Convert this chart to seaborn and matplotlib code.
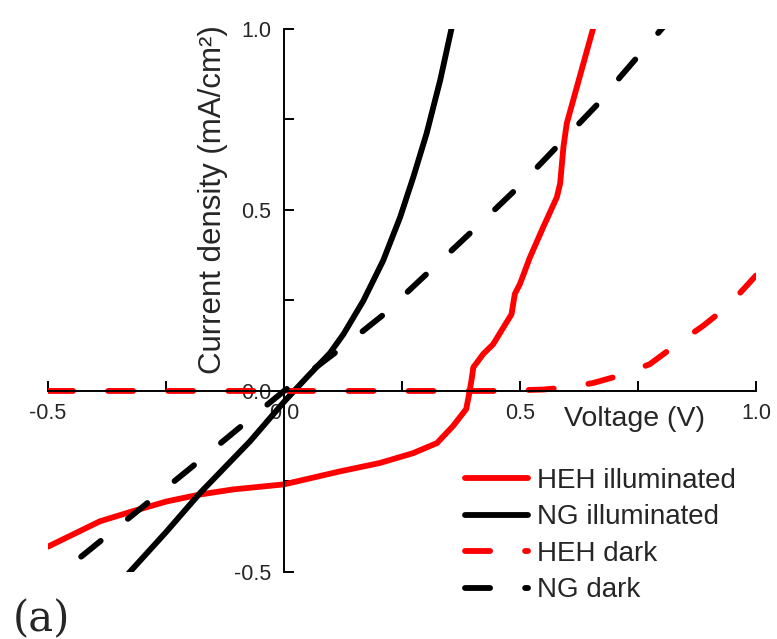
import matplotlib
matplotlib.use("Agg")
import matplotlib.pyplot as plt
import seaborn as sns
import pandas as pd

# J-V curves (voltage in V, current density in mA/cm^2)
heh_ill_v = [-0.5, -0.39, -0.32, -0.248, -0.178, -0.108, 0.0, 0.119, 0.203, 0.273,
             0.324, 0.358, 0.386, 0.392, 0.398, 0.401, 0.422, 0.443, 0.482, 0.489,
             0.500, 0.521, 0.549, 0.578, 0.585, 0.592, 0.599, 0.655, 0.662]
heh_ill_j = [-0.43, -0.36, -0.332, -0.305, -0.286, -0.272, -0.258, -0.222, -0.199, -0.172,
             -0.144, -0.097, -0.05, -0.01, 0.036, 0.065, 0.102, 0.129, 0.212, 0.268,
             0.296, 0.369, 0.452, 0.535, 0.573, 0.674, 0.739, 1.002, 1.03]

ng_ill_v = [-0.347, -0.326, -0.25, -0.178, -0.072, 0.0, 0.05, 0.0975, 0.126, 0.168,
            0.210, 0.246, 0.274, 0.302, 0.331, 0.355, 0.362]
ng_ill_j = [-0.53, -0.499, -0.39, -0.282, -0.139, -0.03, 0.04, 0.105, 0.157, 0.249,
            0.360, 0.480, 0.591, 0.711, 0.859, 1.002, 1.04]

heh_dark_v = [-0.5, 0.45, 0.55, 0.60, 0.655, 0.712, 0.775, 0.832, 0.888, 0.941, 1.0]
heh_dark_j = [0.0, 0.0, 0.004, 0.01, 0.022, 0.043, 0.074, 0.129, 0.18, 0.235, 0.319]

ng_dark_v = [-0.53, -0.47, -0.411, -0.2, -0.057, 0.0, 0.049, 0.133, 0.208, 0.40,
             0.493, 0.585, 0.676, 0.712, 0.80, 0.82]
ng_dark_j = [-0.56, -0.5, -0.438, -0.215, -0.061, 0.0, 0.047, 0.13, 0.208, 0.443,
             0.559, 0.684, 0.808, 0.867, 1.0, 1.03]

series_names = ["HEH illuminated", "NG illuminated", "HEH dark", "NG dark"]
x_ticks = [-0.5, 0.0, 0.5, 1.0]
y_ticks = [-0.5, 0.0, 0.5, 1.0]
minor_ticks = [-0.25, 0.25, 0.75]

sns.set_style("ticks")
plt.rcParams["font.family"] = ["Liberation Sans", "DejaVu Sans"]

fig = plt.figure(figsize=(7.77, 6.39), dpi=100)
ax = fig.add_axes([0.0618, 0.1049, 0.9112, 0.8498])

lw = 4.2
dash = (0, (4.3, 6.0))
styles = [
    dict(color="#ff0000", linestyle="-"),
    dict(color="#000000", linestyle="-"),
    dict(color="#ff0000", linestyle=dash),
    dict(color="#000000", linestyle=dash),
]
curves = [(heh_ill_v, heh_ill_j), (ng_ill_v, ng_ill_j),
          (heh_dark_v, heh_dark_j), (ng_dark_v, ng_dark_j)]

for name, (v, j), st in zip(series_names, curves, styles):
    df = pd.DataFrame({"Voltage": v, "J": j})
    sns.lineplot(data=df, x="Voltage", y="J", ax=ax, sort=False, estimator=None,
                 label=name, linewidth=lw, solid_capstyle="round",
                 dash_capstyle="round", **st)

ax.set_xlim(-0.5, 1.0)
ax.set_ylim(-0.5, 1.0)

# axes crossing at the origin
for side in ("top", "right"):
    ax.spines[side].set_visible(False)
ax.spines["left"].set_position(("data", 0))
ax.spines["bottom"].set_position(("data", 0))
for side in ("left", "bottom"):
    ax.spines[side].set_linewidth(1.4)
    ax.spines[side].set_color("black")

ax.set_xticks(x_ticks)
ax.set_yticks(y_ticks)
ax.set_xticks(minor_ticks, minor=True)
ax.set_yticks(minor_ticks, minor=True)
ax.set_xticklabels([f"{t:.1f}" for t in x_ticks])
ax.set_yticklabels([f"{t:.1f}" for t in y_ticks])
ax.tick_params(which="both", direction="in", length=7, width=1.4, color="black",
               labelsize=15.5, pad=9)

ax.set_xlabel("Voltage (V)", fontsize=20.5)
ax.xaxis.set_label_coords(0.829, 0.306)
ax.set_ylabel("Current density (mA/cm²)", fontsize=22.5)
ax.yaxis.set_label_coords(0.254, 0.685)

ax.legend(loc="center left", bbox_to_anchor=(465 / 777, 1 - 535.5 / 639),
          bbox_transform=fig.transFigure, frameon=False, fontsize=20,
          handlelength=2.27, handletextpad=0.32, labelspacing=0.38,
          borderpad=0, borderaxespad=0)

fig.text(13 / 777, 1 - 631 / 639, "(a)", fontsize=30, family="DejaVu Serif",
         ha="left", va="baseline")

fig.savefig("out.png", dpi=100)
